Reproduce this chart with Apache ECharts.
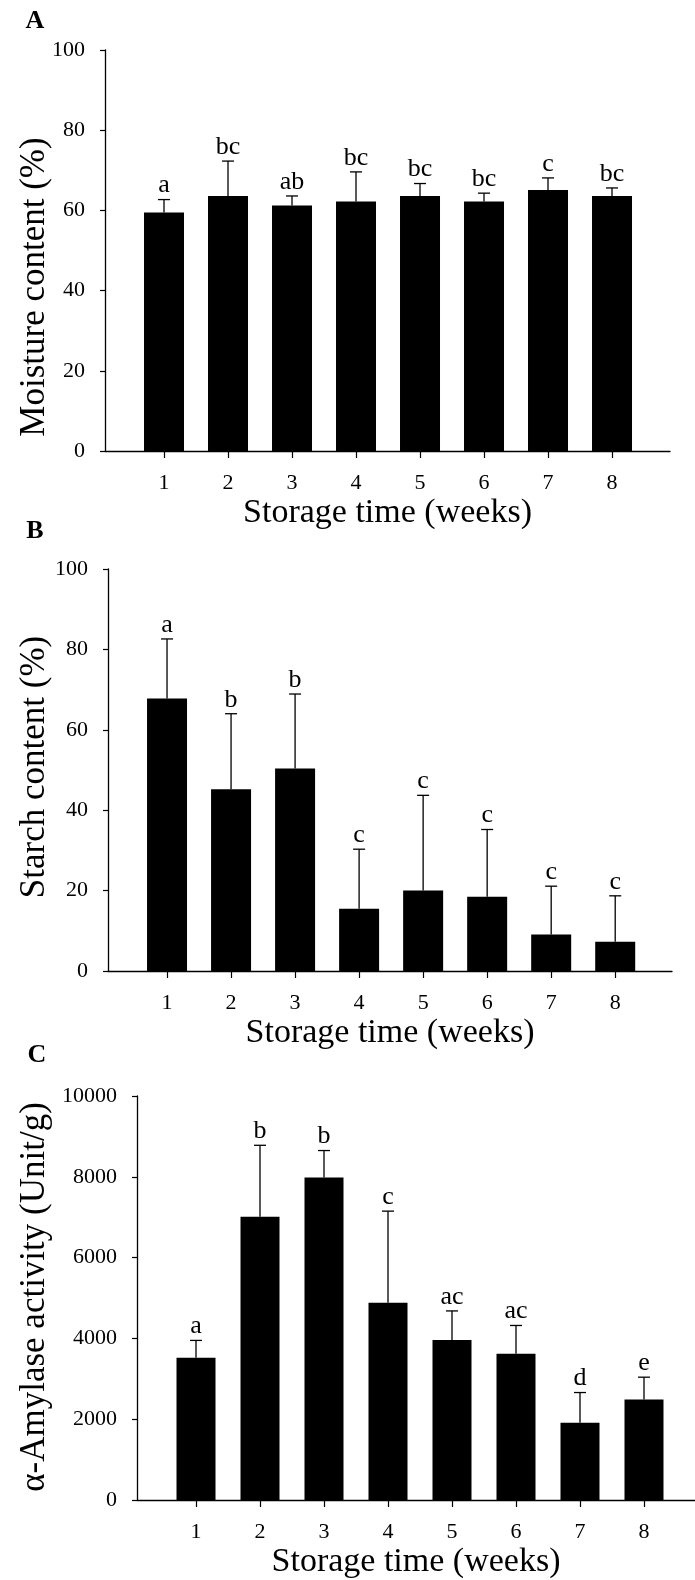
<!DOCTYPE html>
<html>
<head>
<meta charset="utf-8">
<script src="https://cdn.jsdelivr.net/npm/echarts@6/dist/echarts.min.js"></script>
<style>
  html, body { margin: 0; padding: 0; background: #fff; }
  #chart { width: 695px; height: 1580px; }
</style>
</head>
<body>
<div id="chart"></div>
<script>
// Storage weeks shared by all three panels
const weeks = [1, 2, 3, 4, 5, 6, 7, 8];

// Panel A: moisture content (%)
const moistureMean = [59.5, 63.6, 61.2, 62.2, 63.6, 62.2, 65.1, 63.6];
const moistureSD   = [3.2, 8.7, 2.4, 7.4, 3.1, 2.1, 3.0, 2.0];
const moistureSig  = ['a', 'bc', 'ab', 'bc', 'bc', 'bc', 'c', 'bc'];
const moistureTicks = [0, 20, 40, 60, 80, 100];

// Panel B: starch content (%)
const starchMean = [67.8, 45.2, 50.4, 15.5, 20.0, 18.5, 9.1, 7.3];
const starchSD   = [14.8, 18.8, 18.5, 14.8, 23.7, 16.7, 12.0, 11.4];
const starchSig  = ['a', 'b', 'b', 'c', 'c', 'c', 'c', 'c'];
const starchTicks = [0, 20, 40, 60, 80, 100];

// Panel C: alpha-amylase activity (Unit/g)
const amylaseMean = [3520, 7010, 7980, 4880, 3960, 3620, 1910, 2490];
const amylaseSD   = [430, 1770, 670, 2270, 720, 700, 750, 550];
const amylaseSig  = ['a', 'b', 'b', 'c', 'ac', 'ac', 'd', 'e'];
const amylaseTicks = [0, 2000, 4000, 6000, 8000, 10000];

const FONT = "'Liberation Serif', 'Times New Roman', serif";
const INK = '#000';

const panels = [
  { letter: 'A', title: 'Moisture content (%)', mean: moistureMean, sd: moistureSD, sig: moistureSig, ticks: moistureTicks,
    grid: { left: 105, top: 50, width: 565, height: 401 }, xMin: 0.078, xMax: 8.906,
    letterPos: [35, 21], titlePos: [35, 287], barW: 40 },
  { letter: 'B', title: 'Starch content (%)', mean: starchMean, sd: starchSD, sig: starchSig, ticks: starchTicks,
    grid: { left: 108, top: 569, width: 564, height: 402 }, xMin: 0.078, xMax: 8.887,
    letterPos: [35, 531], titlePos: [35, 767], barW: 40 },
  { letter: 'C', title: '\u03b1-Amylase activity (Unit/g)', mean: amylaseMean, sd: amylaseSD, sig: amylaseSig, ticks: amylaseTicks,
    grid: { left: 137, top: 1096, width: 558, height: 404 }, xMin: 0.078, xMax: 8.797,
    letterPos: [37, 1055], titlePos: [35, 1297], barW: 39 }
];

const grids = [], xAxes = [], yAxes = [], series = [], graphics = [];

panels.forEach((p, k) => {
  grids.push(Object.assign({ containLabel: false }, p.grid));

  xAxes.push({
    type: 'value', gridIndex: k, min: p.xMin, max: p.xMax,
    axisLine: { show: true, onZero: false, lineStyle: { color: INK, width: 1.3 } },
    axisTick: { show: true, customValues: weeks, length: 7, inside: false, lineStyle: { color: INK, width: 1.2 } },
    axisLabel: { customValues: weeks, margin: 21, fontFamily: FONT, fontSize: 22, color: INK },
    splitLine: { show: false },
    name: 'Storage time (weeks)', nameLocation: 'middle', nameGap: 45,
    nameTextStyle: { fontFamily: FONT, fontSize: 34, color: INK }
  });

  const top = p.ticks[p.ticks.length - 1];
  yAxes.push({
    type: 'value', gridIndex: k, min: 0, max: top, interval: p.ticks[1] - p.ticks[0],
    axisLine: { show: true, lineStyle: { color: INK, width: 1.3 } },
    axisTick: { show: true, length: 5, inside: false, lineStyle: { color: INK, width: 1.2 } },
    axisLabel: { margin: 20, fontFamily: FONT, fontSize: 22, color: INK, formatter: v => String(v) },
    splitLine: { show: false }
  });

  series.push({
    type: 'bar', xAxisIndex: k, yAxisIndex: k,
    barWidth: p.barW,
    itemStyle: { color: INK },
    data: weeks.map((w, i) => [w, p.mean[i]]),
    silent: true, animation: false
  });

  // Upper error bar with cap and significance letter
  series.push({
    type: 'custom', xAxisIndex: k, yAxisIndex: k,
    data: weeks.map((w, i) => [w, p.mean[i], p.mean[i] + p.sd[i]]),
    renderItem: (params, api) => {
      const x = api.value(0);
      const base = api.coord([x, api.value(1)]);
      const tip = api.coord([x, api.value(2)]);
      const lineStyle = { stroke: INK, lineWidth: 1.3 };
      return {
        type: 'group',
        children: [
          { type: 'line', shape: { x1: tip[0], y1: base[1], x2: tip[0], y2: tip[1] }, style: lineStyle },
          { type: 'line', shape: { x1: tip[0] - 6, y1: tip[1], x2: tip[0] + 6, y2: tip[1] }, style: lineStyle },
          { type: 'text', x: tip[0], y: tip[1] - 1,
            style: { text: p.sig[params.dataIndex], font: '26px ' + FONT, fill: INK,
                     textAlign: 'center', textVerticalAlign: 'bottom' } }
        ]
      };
    },
    silent: true, animation: false, z: 3
  });

  graphics.push({
    type: 'text', x: p.letterPos[0], y: p.letterPos[1],
    style: { text: p.letter, font: 'bold 26px ' + FONT, fill: INK, textAlign: 'center', textVerticalAlign: 'middle' }
  });
  graphics.push({
    type: 'text', x: p.titlePos[0], y: p.titlePos[1], rotation: Math.PI / 2,
    style: { text: p.title, font: '35px ' + FONT, fill: INK, textAlign: 'center', textVerticalAlign: 'middle' }
  });
});

const chart = echarts.init(document.getElementById('chart'), null, { renderer: 'canvas' });
chart.setOption({
  backgroundColor: '#fff',
  animation: false,
  grid: grids,
  xAxis: xAxes,
  yAxis: yAxes,
  series: series,
  graphic: graphics
});
</script>
</body>
</html>
